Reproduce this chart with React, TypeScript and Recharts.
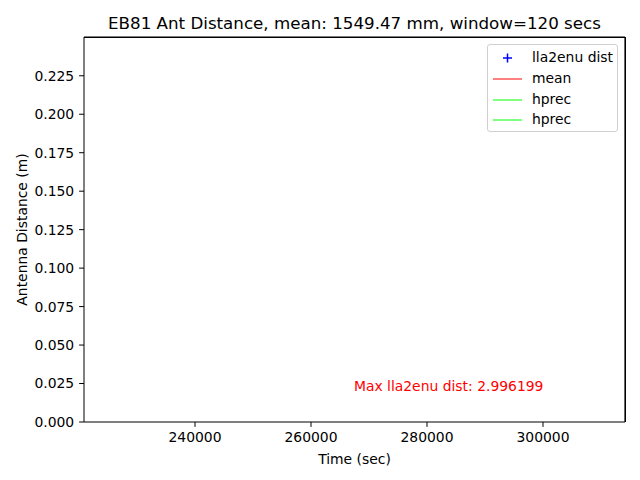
import React from 'react';
import {
  ComposedChart,
  XAxis,
  YAxis,
  Line,
  Scatter,
  ReferenceDot,
  ReferenceLine,
  Customized,
} from 'recharts';

// Antenna distance samples (seconds of week, metres). All above the y-limit, so clipped.
const timeSec = [225100, 236400, 248300, 259700, 271200, 282800, 294500, 309900];
const lla2enuDist = [1.5489, 1.5502, 2.996199, 1.5497, 1.5488, 1.5501, 1.5494, 1.5496];
const meanDist = [1.54947, 1.54947, 1.54947, 1.54947, 1.54947, 1.54947, 1.54947, 1.54947];
const hprecHigh = [1.5621, 1.5618, 1.5624, 1.5619, 1.5622, 1.562, 1.5617, 1.5623];
const hprecLow = [1.5368, 1.5371, 1.5365, 1.537, 1.5367, 1.5369, 1.5372, 1.5366];

const xTicks = [240000, 260000, 280000, 300000];
const yTicks = [0, 0.025, 0.05, 0.075, 0.1, 0.125, 0.15, 0.175, 0.2, 0.225];
const xDomain = [220862, 314138];
const yDomain = [0, 0.2502];

const maxLabel = 'Max lla2enu dist: 2.996199';
const maxLabelPos = { x: 267400, y: 0.02 };

const FONT = '"DejaVu Sans", sans-serif';
const FS = 13.9;

// plot box, matches the chart margins below
const PLOT = { left: 84, top: 37, right: 625, bottom: 422 };

const points = timeSec.map((t, i) => ({ t, d: lla2enuDist[i] }));
const meanRows = timeSec.map((t, i) => ({ t, v: meanDist[i] }));
const hiRows = timeSec.map((t, i) => ({ t, v: hprecHigh[i] }));
const loRows = timeSec.map((t, i) => ({ t, v: hprecLow[i] }));

const legendItems = [
  { name: 'lla2enu dist', color: '#0000ff', kind: 'plus' },
  { name: 'mean', color: '#ff0000', kind: 'line' },
  { name: 'hprec', color: '#00ff00', kind: 'line' },
  { name: 'hprec', color: '#00ff00', kind: 'line' },
];

function LegendBox() {
  return (
    <div
      style={{
        position: 'absolute',
        left: 487,
        top: 44,
        width: 131,
        height: 88,
        border: '1px solid #d0d0d0',
        borderRadius: 3,
        background: '#fff',
        boxSizing: 'border-box',
        fontFamily: FONT,
        fontSize: FS,
        color: '#000',
      }}
    >
      {legendItems.map((it, i) => (
        <div
          key={i}
          style={{ position: 'absolute', left: 0, top: 3 + i * 20.8, height: 20, width: 129 }}
        >
          <svg width={40} height={20} style={{ position: 'absolute', left: 0, top: 0 }}>
            {it.kind === 'plus' ? (
              <g stroke={it.color} strokeWidth={1.5}>
                <line x1={15} x2={24} y1={10} y2={10} />
                <line x1={19.5} x2={19.5} y1={5.5} y2={14.5} />
              </g>
            ) : (
              <line x1={5} x2={34} y1={10} y2={10} stroke={it.color} strokeWidth={1} />
            )}
          </svg>
          <span style={{ position: 'absolute', left: 44, top: 1, lineHeight: '17px' }}>
            {it.name}
          </span>
        </div>
      ))}
    </div>
  );
}

function Texts() {
  return (
    <g fontFamily={FONT} fill="#000">
      <text x={354.5} y={29} fontSize={16.7} textAnchor="middle">
        EB81 Ant Distance, mean: 1549.47 mm, window=120 secs
      </text>
      <text x={354.5} y={463.5} fontSize={FS} textAnchor="middle">
        Time (sec)
      </text>
      <text
        x={26.5}
        y={229.5}
        fontSize={FS}
        textAnchor="middle"
        transform="rotate(-90 26.5 229.5)"
      >
        Antenna Distance (m)
      </text>
    </g>
  );
}

const tickStyle = { fontFamily: FONT, fontSize: FS, fill: '#000' };

export default function App() {
  return (
    <div style={{ position: 'fixed', left: 0, top: 0, width: 640, height: 480, background: '#fff' }}>
      <ComposedChart
        width={640}
        height={480}
        margin={{ top: PLOT.top, right: 640 - PLOT.right, bottom: 0, left: 0 }}
      >
        <XAxis
          type="number"
          dataKey="t"
          domain={xDomain}
          ticks={xTicks}
          allowDataOverflow
          height={480 - PLOT.bottom}
          tick={tickStyle}
          tickSize={4.9}
          tickMargin={4.9}
          stroke="#000"
          interval={0}
        />
        <YAxis
          type="number"
          domain={yDomain}
          ticks={yTicks}
          allowDataOverflow
          width={PLOT.left}
          tick={tickStyle}
          tickSize={4.9}
          tickMargin={4.9}
          tickFormatter={(v: number) => v.toFixed(3)}
          stroke="#000"
          interval={0}
        />
        {/* top and right spines */}
        <ReferenceLine y={yDomain[1]} stroke="#000" strokeWidth={1.2} ifOverflow="visible" />
        <ReferenceLine x={xDomain[1]} stroke="#000" strokeWidth={1.2} ifOverflow="visible" />
        <Scatter
          name="lla2enu dist"
          data={points}
          dataKey="d"
          fill="#0000ff"
          shape="cross"
          isAnimationActive={false}
        />
        <Line
          name="mean"
          data={meanRows}
          dataKey="v"
          stroke="#ff0000"
          strokeWidth={0.8}
          dot={false}
          isAnimationActive={false}
        />
        <Line
          name="hprec"
          data={hiRows}
          dataKey="v"
          stroke="#00ff00"
          strokeWidth={0.8}
          dot={false}
          isAnimationActive={false}
        />
        <Line
          name="hprec"
          data={loRows}
          dataKey="v"
          stroke="#00ff00"
          strokeWidth={0.8}
          dot={false}
          isAnimationActive={false}
        />
        <ReferenceDot
          x={maxLabelPos.x}
          y={maxLabelPos.y}
          r={0}
          fill="none"
          stroke="none"
          label={(p: any) => (
            <text
              x={p.viewBox.x}
              y={p.viewBox.y}
              fill="#ff0000"
              fontFamily={FONT}
              fontSize={FS}
              textAnchor="start"
            >
              {maxLabel}
            </text>
          )}
        />
        <Customized component={Texts} />
      </ComposedChart>
      <div
        style={{
          position: 'absolute',
          zIndex: 10,
          left: PLOT.left,
          top: PLOT.top,
          width: PLOT.right - PLOT.left + 1,
          height: 1,
          background: '#000',
        }}
      />
      <div
        style={{
          position: 'absolute',
          zIndex: 10,
          left: PLOT.right,
          top: PLOT.top,
          width: 1,
          height: PLOT.bottom - PLOT.top,
          background: '#000',
        }}
      />
      <LegendBox />
    </div>
  );
}
